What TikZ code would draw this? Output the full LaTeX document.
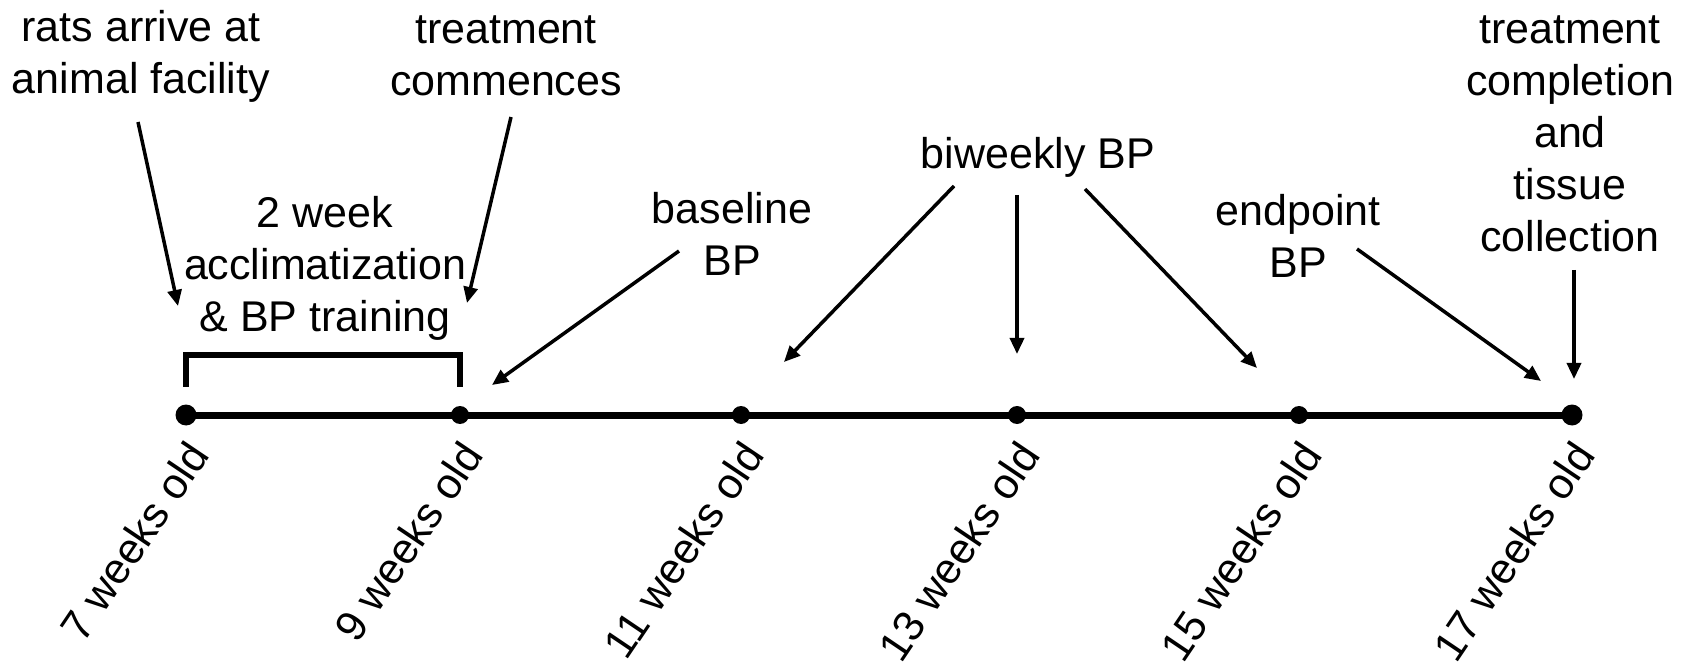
\documentclass[tikz,border=0pt]{standalone}
\usepackage{fontspec}
\setmainfont{Liberation Sans}
\usetikzlibrary{arrows.meta, positioning}

\tikzset{
  lbl/.style={align=center, inner sep=0pt, font=\fontsize{21.5}{26}\selectfont},
  agelbl/.style={anchor=east, rotate=56, inner sep=0pt, font=\fontsize{21.5}{26}\selectfont},
  agedot/.style={circle, fill=black, inner sep=0pt, minimum size=#1},
  arr/.style={line width=1.75pt, -{Triangle[length=8pt,width=7pt]}},
}

\begin{document}
\begin{tikzpicture}[x=0.5pt,y=-0.5pt]
\useasboundingbox (0,0) rectangle (1696,662);
\def\ty{415}

% timeline
\coordinate (t7) at (186,\ty);
\coordinate (t9) at (460,\ty);
\coordinate (t11) at (741,\ty);
\coordinate (t13) at (1017,\ty);
\coordinate (t15) at (1299,\ty);
\coordinate (t17) at (1572,\ty);

\draw[line width=3.5pt] (t7) -- (t17);
\draw[line width=3.2pt] ([yshift=14pt]t7) -- ([yshift=30pt]t7) -- ([yshift=30pt]t9) -- ([yshift=14pt]t9);

\node[agedot=10.5pt] (w7) at (t7) {};
\node[agedot=9pt] (w9) at (t9) {};
\node[agedot=9pt] (w11) at (t11) {};
\node[agedot=9pt] (w13) at (t13) {};
\node[agedot=9pt] (w15) at (t15) {};
\node[agedot=10.5pt] (w17) at (t17) {};

\foreach \w in {7,9,11,13,15,17}{\node[agelbl] (a\w) at ([xshift=6pt,yshift=-16pt]t\w) {\w\ weeks old};}

% events
\node[lbl] (rats) at (141,56) {rats arrive at\\animal facility};
\node[lbl] (start) at (506,56) {treatment\\commences};
\node[lbl] (acclim) at (325,268) {2 week\\acclimatization\\\& BP training};
\node[lbl] (base) at (732,234) {baseline\\BP};
\node[lbl] (biweekly) at (1038,157) {biweekly BP};
\node[lbl] (endbp) at (1298,236) {endpoint\\BP};
\node[lbl] (finish) at (1570,134) {treatment\\completion\\and\\tissue\\collection};

\coordinate (r0) at (138,122);   \coordinate (r1) at (178,306);
\coordinate (s0) at (511,117);   \coordinate (s1) at (467,303);
\coordinate (b0) at (679,251);   \coordinate (b1) at (492,385);
\coordinate (bw0) at (954,186);  \coordinate (bw1) at (784,362);
\coordinate (bw2) at (1017,195); \coordinate (bw3) at (1017,354);
\coordinate (bw4) at (1085,189); \coordinate (bw5) at (1257,368);
\coordinate (e0) at (1357,249);  \coordinate (e1) at (1541,381);
\coordinate (f0) at (1574,270);  \coordinate (f1) at (1574,379);

\draw[arr] (r0) -- (r1);
\draw[arr] (s0) -- (s1);
\draw[arr] (b0) -- (b1);
\draw[arr] (bw0) -- (bw1);
\draw[arr] (bw2) -- (bw3);
\draw[arr] (bw4) -- (bw5);
\draw[arr] (e0) -- (e1);
\draw[arr] (f0) -- (f1);
\end{tikzpicture}
\end{document}
